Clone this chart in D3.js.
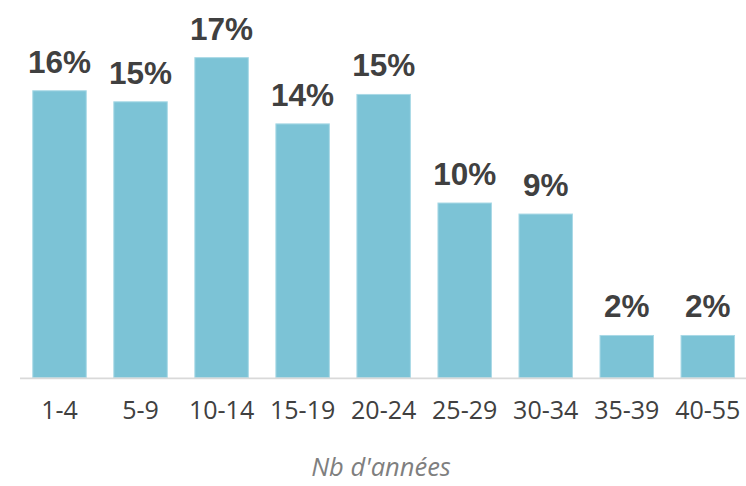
<!DOCTYPE html>
<html>
<head>
<meta charset="utf-8">
<script src="https://cdn.jsdelivr.net/npm/d3@7"></script>
<style>
  html, body { margin: 0; padding: 0; background: #fff; }
  svg { display: block; }
</style>
</head>
<body>
<svg id="chart" width="746" height="486"></svg>
<script>
const categories = ["1-4", "5-9", "10-14", "15-19", "20-24", "25-29", "30-34", "35-39", "40-55"];
const values = [15.6, 15.0, 17.4, 13.8, 15.4, 9.5, 8.9, 2.3, 2.3];
const labels = ["16%", "15%", "17%", "14%", "15%", "10%", "9%", "2%", "2%"];
const axisTitle = "Nb d'années";

const svg = d3.select("#chart");
const baseY = 377.8;

const x = d3.scaleBand()
  .domain(categories)
  .range([19, 748.3])
  .paddingInner(0.34)
  .paddingOuter(0.17);

const y = d3.scaleLinear()
  .domain([0, 20])
  .range([baseY, baseY - 368]);

// bars
svg.append("g").selectAll("rect")
  .data(categories)
  .join("rect")
  .attr("x", d => x(d))
  .attr("y", (d, i) => y(values[i]))
  .attr("width", x.bandwidth())
  .attr("height", (d, i) => baseY - y(values[i]))
  .attr("fill", "#7cc3d6")
  .attr("stroke", "#a9d9e6")
  .attr("stroke-width", 1);

// axis line
svg.append("line")
  .attr("x1", 20).attr("x2", 746)
  .attr("y1", baseY + 0.6).attr("y2", baseY + 0.6)
  .attr("stroke", "#d9d9d9")
  .attr("stroke-width", 1.6);

// x axis tick labels
const xAxis = d3.axisBottom(x).tickSize(0).tickPadding(0);
const gx = svg.append("g")
  .attr("transform", `translate(0,${baseY})`)
  .call(xAxis);
gx.select(".domain").remove();
gx.selectAll("text")
  .attr("y", 41)
  .attr("dy", 0)
  .attr("font-family", "'Open Sans', sans-serif")
  .attr("font-size", 25)
  .attr("fill", "#404040");

// value labels
svg.append("g").selectAll("text")
  .data(categories)
  .join("text")
  .attr("x", d => x(d) + x.bandwidth() / 2)
  .attr("y", (d, i) => y(values[i]) - 18)
  .attr("text-anchor", "middle")
  .attr("font-family", "'Liberation Sans', Arial, sans-serif")
  .attr("font-weight", "bold")
  .attr("font-size", 31.5)
  .attr("fill", "#404040")
  .text((d, i) => labels[i]);

// axis title
svg.append("text")
  .attr("x", 381)
  .attr("y", 476)
  .attr("text-anchor", "middle")
  .attr("font-family", "'Open Sans', sans-serif")
  .attr("font-style", "italic")
  .attr("font-size", 25.5)
  .attr("fill", "#7f7f7f")
  .text(axisTitle);
</script>
</body>
</html>
